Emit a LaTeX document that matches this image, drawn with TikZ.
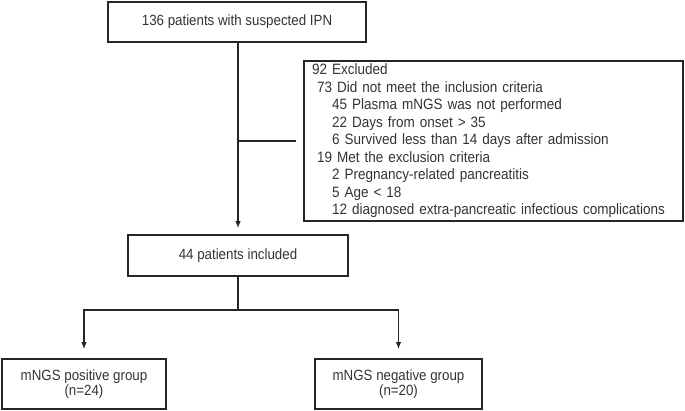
\documentclass[tikz,border=0pt]{standalone}
\usepackage{fontspec}
\setmainfont{Liberation Sans}[FakeStretch=0.9]
\usetikzlibrary{arrows.meta}
\begin{document}
\begin{tikzpicture}[x=1pt,y=1pt,
  box/.style={draw=black!85, line width=1.6pt, inner sep=0pt, align=center,
    text=black!80, font=\fontsize{14.8}{15.5}\selectfont},
  conn/.style={draw=black!85, line width=1.4pt},
  arr/.style={conn, -{Latex[length=7pt,width=5.5pt]}}]
\useasboundingbox (0,0) rectangle (685,-411);
\node[box, minimum width=258, minimum height=40] (top) at (237,-22) {136 patients with suspected IPN};
\node[box, minimum width=379, minimum height=160, text width=363, align=left,
  font=\fontsize{15}{17.5}\selectfont] (ex) at (493.5,-141)
  {92 Excluded\\
   \hspace*{5pt}73 Did not meet the inclusion criteria\\
   \hspace*{20pt}45 Plasma mNGS was not performed\\
   \hspace*{20pt}22 Days from onset \textgreater{} 35\\
   \hspace*{20pt}6 Survived less than 14 days after admission\\
   \hspace*{5pt}19 Met the exclusion criteria\\
   \hspace*{20pt}2 Pregnancy-related pancreatitis\\
   \hspace*{20pt}5 Age \textless{} 18\\
   \hspace*{20pt}12 diagnosed extra-pancreatic infectious complications};
\node[box, minimum width=220, minimum height=41] (inc) at (238,-255.5) {44 patients included};
\node[box, minimum width=164, minimum height=50] (pos) at (84,-384) {mNGS positive group\\(n=24)};
\node[box, minimum width=167, minimum height=50] (neg) at (398.5,-384) {mNGS negative group\\(n=20)};
\coordinate (branch) at (238,-141);
\coordinate (split) at (238,-310);
\draw[arr, shorten >=6pt] (top.south -| branch) -- (inc.north -| branch);
\draw[conn, shorten >=7pt] (branch) -- (ex.west);
\draw[conn] (inc.south -| split) -- (split);
\draw[arr, shorten >=9pt] (split) -| (pos.north);
\draw[arr, shorten >=9pt] (split) -| (neg.north);
\end{tikzpicture}
\end{document}
